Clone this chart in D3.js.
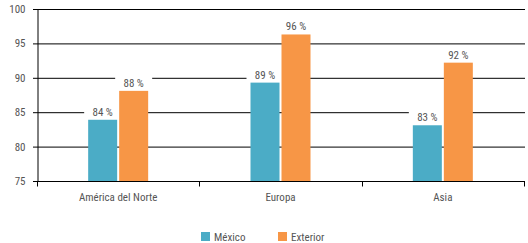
<!DOCTYPE html>
<html>
<head>
<meta charset="utf-8">
<script src="https://cdn.jsdelivr.net/npm/d3@7"></script>
<style>
  body { margin: 0; background: #fff; }
  text { font-family: "Liberation Sans Narrow", "Arial Narrow", "Roboto Condensed", "Liberation Sans", sans-serif; }
</style>
</head>
<body>
<div id="chart"></div>
<script>
var categories = ["América del Norte", "Europa", "Asia"];
var seriesNames = ["México", "Exterior"];
var mexico = [83.9, 89.3, 83.1];
var exterior = [88.1, 96.3, 92.2];
var mexicoLabels = ["84 %", "89 %", "83 %"];
var exteriorLabels = ["88 %", "96 %", "92 %"];
var yTicks = [75, 80, 85, 90, 95, 100];
var colors = ["#4bacc6", "#f79646"];

function init() {
    var w = 528, h = 243;
    var left = 37, right = 524, top = 9, bottom = 181;

    var svg = d3.select("#chart").append("svg")
        .attr("width", w)
        .attr("height", h);

    var x = d3.scaleBand().domain(categories).range([left, right]);
    var y = d3.scaleLinear().domain([75, 100]).range([bottom, top]);
    var barW = 29, gap = 2;

    // gridlines
    svg.append("g").selectAll("line")
        .data(yTicks).enter().append("line")
        .attr("x1", left - 4).attr("x2", right + 1)
        .attr("y1", function(d) { return y(d) + 0.5; })
        .attr("y2", function(d) { return y(d) + 0.5; })
        .attr("stroke", "#000").attr("stroke-width", 1);

    // y axis
    var yAxis = svg.append("g")
        .attr("transform", "translate(" + (left + 0.5) + ",0)")
        .call(d3.axisLeft(y).tickValues(yTicks).tickSize(0).tickPadding(12));
    yAxis.select(".domain").attr("stroke", "#000");
    yAxis.selectAll("text").attr("fill", "#555").style("font-size", "11px");

    // x axis
    var xAxis = svg.append("g")
        .attr("transform", "translate(0," + (bottom + 0.5) + ")");
    xAxis.append("line").attr("x1", left).attr("x2", right + 1)
        .attr("stroke", "#000");
    var bounds = [left].concat(categories.map(function(c) { return x(c) + x.bandwidth(); }));
    xAxis.selectAll(".tk").data(bounds).enter().append("line")
        .attr("x1", function(d) { return Math.round(d) + 0.5; })
        .attr("x2", function(d) { return Math.round(d) + 0.5; })
        .attr("y1", 0).attr("y2", 5).attr("stroke", "#000");
    xAxis.selectAll(".cat").data(categories).enter().append("text")
        .attr("x", function(d) { return x(d) + x.bandwidth() / 2; })
        .attr("y", 19)
        .attr("text-anchor", "middle")
        .attr("fill", "#555")
        .style("font-size", "11px")
        .text(function(d) { return d; });

    var series = [mexico, exterior];
    var labels = [mexicoLabels, exteriorLabels];
    series.forEach(function(vals, s) {
        var bx = function(i) {
            var c = x(categories[i]) + x.bandwidth() / 2;
            return s === 0 ? c - gap / 2 - barW : c + gap / 2;
        };
        svg.append("g").selectAll("rect")
            .data(vals).enter().append("rect")
            .attr("x", function(d, i) { return bx(i); })
            .attr("y", function(d) { return y(d); })
            .attr("width", barW)
            .attr("height", function(d) { return y(75) - y(d); })
            .attr("fill", colors[s]);

        var lg = svg.append("g").selectAll("g")
            .data(vals).enter().append("g");
        lg.append("rect")
            .attr("x", function(d, i) { return bx(i) - 4; })
            .attr("y", function(d) { return y(d) - 15; })
            .attr("width", barW + 8)
            .attr("height", 13)
            .attr("fill", "#fff");
        lg.append("text")
            .attr("x", function(d, i) { return bx(i) + barW / 2; })
            .attr("y", function(d) { return y(d) - 4; })
            .attr("text-anchor", "middle")
            .attr("fill", "#555")
            .style("font-size", "11px")
            .text(function(d, i) { return labels[s][i]; });
    });

    // legend
    var legX = [201, 278];
    var leg = svg.append("g").selectAll("g")
        .data(seriesNames).enter().append("g")
        .attr("transform", function(d, i) { return "translate(" + legX[i] + ",232)"; });
    leg.append("rect").attr("width", 9).attr("height", 9)
        .attr("fill", function(d, i) { return colors[i]; });
    leg.append("text").attr("x", 13).attr("y", 9)
        .attr("fill", "#555")
        .style("font-size", "11px")
        .text(function(d) { return d; });
}

window.onload = init;
</script>
</body>
</html>
